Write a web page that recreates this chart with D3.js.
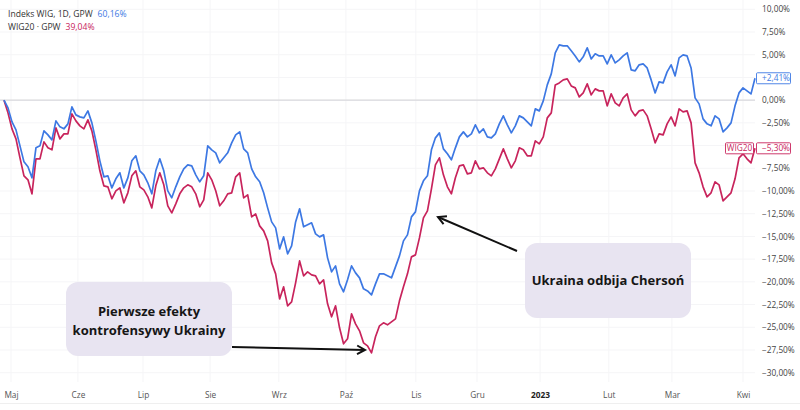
<!DOCTYPE html>
<html><head><meta charset="utf-8">
<script src="https://cdn.jsdelivr.net/npm/d3@7"></script>
<style>
html,body{margin:0;padding:0;background:#fff;}
svg{display:block;font-family:"Open Sans",sans-serif;}
</style></head><body>
<svg id="chart" width="800" height="410"></svg>
<script>
// ---- DATA (percent change since start, one value per sampled session) ----
const wig = [
  0, -0.85, -2.39, -3.27, -5.03, -6.79, -7.34, -8.55, -5.25, -5.03,
  -3.38, -3.82, -4.37, -2.28, -2.94, -3.16, -2.61, -0.74, -1.62, -1.84,
  -1.95, -1.18, -2.50, -4.48, -6.68, -8.44, -8.33, -9.66, -8.66, -8.00,
  -9.66, -8.55, -6.68, -6.13, -7.78, -8.22, -9.10, -10.31, -7.78, -6.46,
  -7.78, -9.98, -10.75, -9.54, -8.44, -7.56, -7.12, -7.23, -8.22, -8.99,
  -8.33, -5.03, -5.47, -5.80, -6.90, -6.35, -5.80, -4.70, -3.82, -3.49,
  -5.36, -5.80, -7.56, -8.44, -8.99, -10.20, -11.86, -13.40, -14.06, -16.37,
  -15.05, -16.92, -16.04, -13.40, -11.96, -13.94, -13.72, -13.50, -14.72, -15.05,
  -14.83, -17.36, -18.90, -18.24, -20.22, -21.10, -19.78, -18.24, -19.01, -19.56,
  -20.77, -21.00, -21.43, -20.22, -19.12, -19.12, -19.34, -19.56, -18.35, -17.14,
  -15.49, -14.83, -12.85, -12.30, -9.98, -8.88, -8.33, -5.47, -4.15, -3.60,
  -5.36, -5.91, -6.57, -5.25, -4.04, -3.49, -4.04, -3.71, -2.72, -3.60,
  -3.16, -4.04, -4.15, -3.71, -2.61, -1.73, -2.72, -3.60, -2.83, -1.73,
  -1.95, -2.39, -2.83, -0.96, -1.18, -0.08, 1.68, 2.89, 5.21, 6.09,
  5.98, 5.98, 5.43, 4.87, 4.21, 4.77, 5.76, 4.54, 5.10, 4.87,
  4.87, 3.99, 4.99, 4.10, 4.44, 4.87, 5.21, 3.34, 3.23, 3.89,
  3.99, 3.55, 2.23, 0.80, 2.01, 1.90, 3.11, 3.89, 2.67, 4.65,
  4.99, 4.87, 3.55, 0.25, -0.41, -2.06, -2.61, -2.83, -1.73, -2.06,
  -3.49, -3.05, -2.50, -0.63, 0.80, 1.35, 1.02, 0.69, 2.41
];
const wig20 = [
  0, -1.40, -3.16, -4.26, -6.35, -8.33, -8.77, -10.31, -6.46, -6.46,
  -4.59, -5.25, -5.47, -3.05, -4.26, -3.71, -3.71, -1.51, -2.28, -2.83,
  -3.16, -2.17, -3.38, -5.47, -7.78, -9.43, -9.54, -10.86, -9.98, -9.65,
  -11.30, -10.20, -8.33, -7.78, -9.54, -9.87, -10.64, -11.86, -9.43, -8.00,
  -9.32, -11.64, -12.41, -11.41, -10.31, -9.65, -9.32, -9.54, -10.31, -11.74,
  -10.97, -8.00, -8.77, -9.98, -11.63, -11.08, -10.31, -10.20, -8.44, -8.00,
  -10.75, -10.42, -12.85, -12.52, -13.84, -14.39, -15.49, -17.91, -19.12, -21.88,
  -20.55, -22.64, -22.20, -20.11, -17.69, -19.34, -18.90, -19.23, -19.34, -20.22,
  -19.78, -22.42, -23.85, -22.64, -25.06, -26.82, -26.27, -23.52, -24.62, -25.39,
  -26.71, -27.04, -27.82, -26.05, -24.84, -24.51, -24.73, -24.40, -24.07, -22.09,
  -20.55, -19.12, -17.25, -17.03, -15.16, -12.96, -12.19, -9.76, -7.12, -6.35,
  -8.22, -9.54, -10.31, -8.55, -7.23, -7.12, -8.11, -8.00, -6.68, -7.56,
  -7.45, -8.00, -8.33, -7.56, -6.46, -5.36, -6.46, -7.45, -6.68, -5.25,
  -5.47, -6.13, -6.13, -4.48, -4.81, -4.04, -1.95, -1.40, 1.68, 1.90,
  2.23, 2.34, 1.57, 1.35, 0.36, 0.80, 1.79, 0.58, 1.24, 1.02,
  1.02, -0.63, 0.69, -0.30, -0.63, 0.25, 0.69, -1.07, -1.73, -1.18,
  -1.07, -1.73, -3.16, -4.70, -3.71, -3.82, -2.61, -1.84, -2.83, -0.96,
  -1.29, -1.18, -2.50, -6.90, -8.00, -9.54, -10.64, -10.20, -8.99, -9.32,
  -11.08, -10.64, -10.20, -8.66, -6.35, -5.91, -6.46, -6.90, -5.30
];
const monthLabels = ["Maj","Cze","Lip","Sie","Wrz","Paź","Lis","Gru","2023","Lut","Mar","Kwi"];
const monthPos = [1.75, 18.5, 34.8, 51.6, 68.8, 85.6, 103.1, 118.4, 134.2, 151.4, 167.2, 185.0];
const yTicks = [10, 7.5, 5, 2.5, 0, -2.5, -5, -7.5, -10, -12.5, -15, -17.5, -20, -22.5, -25, -27.5, -30];
const seriesNames = ["Indeks WIG, 1D, GPW", "WIG20 · GPW"];
const seriesTotals = ["60,16%", "39,04%"];
const annotationTexts = [["Pierwsze efekty", "kontrofensywy Ukrainy"], ["Ukraina odbija Chersoń"]];

// ---- CHART ----
const BLUE = "#3d78e3", RED = "#c8245c";
const svg = d3.select("#chart");
const x = d3.scaleLinear().domain([0, wig.length - 1]).range([4, 755]);
const y = d3.scaleLinear().domain([-30, 10]).range([372.7, 9.3]);
const pct = v => (Math.abs(v) < 1e-9 ? "0,00" : (v < 0 ? "\u2212" : "") + Math.abs(v).toFixed(2).replace(".", ",")) + "%";
const signed = v => (v > 0 ? "+" : "") + pct(v);
const lastVals = [wig[wig.length - 1], wig20[wig20.length - 1]];

// faint grid
svg.append("g").selectAll("line").data(yTicks).join("line")
  .attr("x1", 0).attr("x2", 755).attr("y1", d => y(d)).attr("y2", d => y(d))
  .attr("stroke", "#f5f5f7").attr("stroke-width", 1);
svg.append("g").selectAll("line").data(monthPos).join("line")
  .attr("x1", d => x(d)).attr("x2", d => x(d)).attr("y1", 0).attr("y2", 382)
  .attr("stroke", "#f5f5f7").attr("stroke-width", 1);
// bottom border
svg.append("line").attr("x1", 0).attr("x2", 800).attr("y1", 403.5).attr("y2", 403.5)
  .attr("stroke", "#efefef");

// zero line
svg.append("line").attr("x1", 0).attr("x2", 755).attr("y1", y(0)).attr("y2", y(0))
  .attr("stroke", "#d9d9dc").attr("stroke-width", 1.2);

// y axis (right) – labels hidden where a last-value tag sits on top of them
const visibleTicks = yTicks.filter(t => lastVals.every(v => Math.abs(y(t) - y(v)) > 9));
const yAxis = svg.append("g").attr("transform", "translate(756,0)")
  .call(d3.axisRight(y).tickValues(visibleTicks).tickSize(0).tickPadding(6).tickFormat(pct));
yAxis.select(".domain").remove();
yAxis.selectAll("text").attr("font-size", 8.3).attr("fill", "#444").attr("font-family", "Open Sans, sans-serif");

// x axis
const xAxis = svg.append("g").attr("transform", "translate(0,392)")
  .call(d3.axisBottom(x).tickValues(monthPos).tickSize(0).tickPadding(0).tickFormat((d, i) => monthLabels[i]));
xAxis.select(".domain").remove();
xAxis.selectAll("text").attr("font-size", 8.3).attr("font-family", "Open Sans, sans-serif")
  .attr("font-weight", (d, i) => monthLabels[i] === "2023" ? 700 : 400)
  .attr("fill", (d, i) => monthLabels[i] === "2023" ? "#222" : "#555");

// lines
const line = d3.line().x((d, i) => x(i)).y(d => y(d));
svg.append("path").datum(wig20).attr("d", line).attr("fill", "none")
  .attr("stroke", RED).attr("stroke-width", 1.7).attr("stroke-linejoin", "round");
svg.append("path").datum(wig).attr("d", line).attr("fill", "none")
  .attr("stroke", BLUE).attr("stroke-width", 1.7).attr("stroke-linejoin", "round");

// last value labels on price axis
function priceTag(v, color, name) {
  const g = svg.append("g");
  const cy = y(v);
  g.append("rect").attr("x", 756.5).attr("y", cy - 5.5).attr("width", 34).attr("height", 11)
    .attr("fill", "#fff").attr("stroke", color).attr("stroke-width", 0.9).attr("rx", 1);
  g.append("text").attr("x", 762).attr("y", cy).attr("dy", "0.34em").attr("font-size", 8.3)
    .attr("fill", color).text(signed(v));
  if (name) {
    g.append("rect").attr("x", 725.5).attr("y", cy - 5.5).attr("width", 28).attr("height", 11)
      .attr("fill", "#fff").attr("stroke", color).attr("stroke-width", 0.9).attr("rx", 1);
    g.append("text").attr("x", 739.5).attr("y", cy).attr("dy", "0.34em").attr("text-anchor", "middle")
      .attr("font-size", 8.3).attr("fill", color).text(name);
  }
}
priceTag(lastVals[0], BLUE, null);
priceTag(lastVals[1], RED, "WIG20");

// legend
const legend = svg.append("g");
[[seriesNames[0], seriesTotals[0], BLUE, 17], [seriesNames[1], seriesTotals[1], RED, 30]].forEach(([n, t, c, yy]) => {
  const tx = legend.append("text").attr("x", 8).attr("y", yy).attr("font-size", 8.6).attr("fill", "#333");
  tx.append("tspan").text(n);
  tx.append("tspan").attr("dx", 5).attr("fill", c).text(t);
});

// annotations
const ann = svg.append("g");
ann.append("rect").attr("x", 66).attr("y", 282).attr("width", 166).attr("height", 74).attr("rx", 12)
  .attr("fill", "#e8e4f1");
annotationTexts[0].forEach((t, i) => {
  ann.append("text").attr("x", 149).attr("y", 316 + i * 19).attr("text-anchor", "middle")
    .attr("font-size", 13).attr("font-weight", 700).attr("fill", "#161616").text(t);
});
ann.append("rect").attr("x", 525).attr("y", 243).attr("width", 166).attr("height", 75).attr("rx", 12)
  .attr("fill", "#e8e4f1");
ann.append("text").attr("x", 608).attr("y", 285).attr("text-anchor", "middle")
  .attr("font-size", 13).attr("font-weight", 700).attr("fill", "#161616").text(annotationTexts[1][0]);

function arrow(x1, y1, x2, y2) {
  const a = Math.atan2(y2 - y1, x2 - x1), L = 9, s = 0.5;
  ann.append("line").attr("x1", x1).attr("y1", y1).attr("x2", x2).attr("y2", y2)
    .attr("stroke", "#111").attr("stroke-width", 2);
  ann.append("path")
    .attr("d", `M${x2 - L * Math.cos(a - s)},${y2 - L * Math.sin(a - s)} L${x2},${y2} L${x2 - L * Math.cos(a + s)},${y2 - L * Math.sin(a + s)}`)
    .attr("fill", "none").attr("stroke", "#111").attr("stroke-width", 2).attr("stroke-linejoin", "miter");
}
arrow(232, 347, 365, 350);
arrow(517, 251, 438, 217);
</script>
</body></html>
